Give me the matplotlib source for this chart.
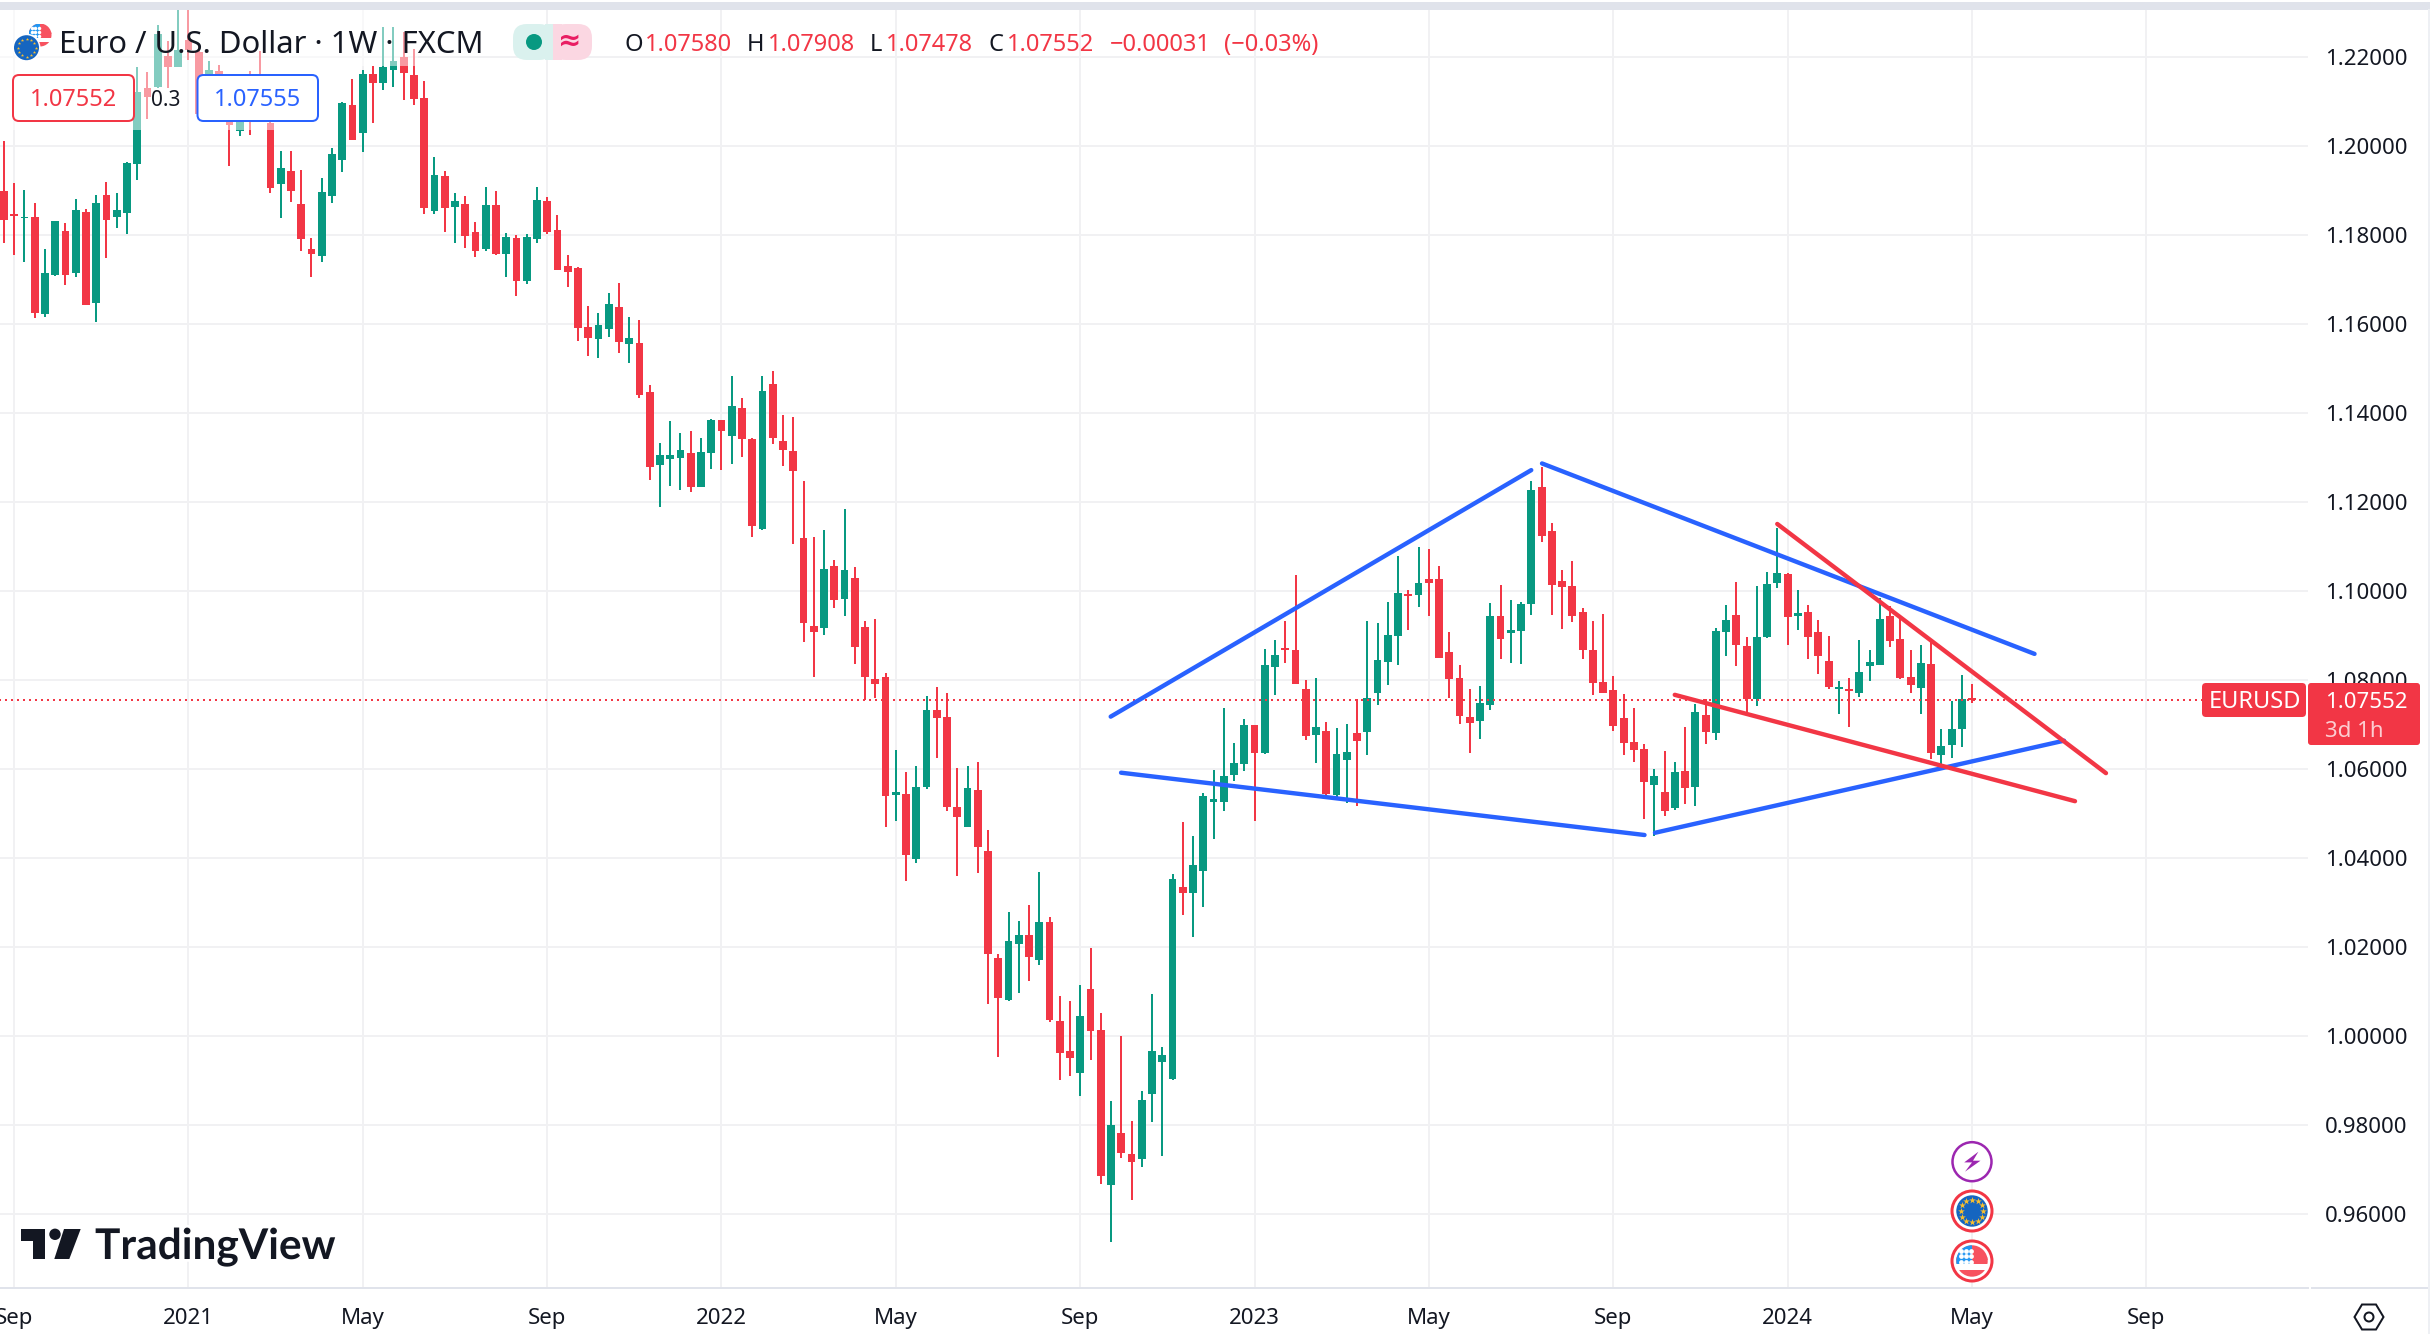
import numpy as np
import matplotlib
matplotlib.use("Agg")
import matplotlib.pyplot as plt
import matplotlib.patheffects as pe
from matplotlib.patches import Circle, FancyBboxPatch, Polygon, Rectangle

# Weekly EUR/USD candles (oldest first)
opens = [
    1.1899, 1.1847, 1.1837, 1.1840, 1.1621, 1.1710, 1.1809, 1.1715, 1.1852, 1.1646,
    1.1890, 1.1839, 1.1848, 1.1958, 1.2130, 1.2133, 1.2202, 1.2178, 1.2238, 1.2210,
    1.2101, 1.2169, 1.2101, 1.2034, 1.2094, 1.2131, 1.2052, 1.1915, 1.1944, 1.1870,
    1.1769, 1.1753, 1.1888, 1.1969, 1.2092, 1.2029, 1.2162, 1.2142, 1.2171, 1.2200,
    1.2160, 1.2108, 1.1854, 1.1933, 1.1863, 1.1870, 1.1807, 1.1769, 1.1867, 1.1757,
    1.1793, 1.1697, 1.1791, 1.1876, 1.1811, 1.1730, 1.1726, 1.1593, 1.1566, 1.1589,
    1.1638, 1.1555, 1.1557, 1.1446, 1.1283, 1.1296, 1.1298, 1.1309, 1.1233, 1.1309,
    1.1384, 1.1348, 1.1410, 1.1341, 1.1139, 1.1464, 1.1336, 1.1314, 1.1119, 1.0921,
    1.0917, 1.1056, 1.0982, 1.1029, 1.0919, 1.0802, 1.0805, 1.0542, 1.0544, 1.0398,
    1.0558, 1.0733, 1.0717, 1.0515, 1.0470, 1.0553, 1.0416, 1.0175, 1.0080, 1.0206,
    1.0227, 1.0170, 1.0256, 1.0033, 0.9966, 0.9916, 1.0105, 1.0013, 0.9664, 0.9781,
    0.9734, 0.9723, 0.9869, 0.9941, 0.9903, 1.0335, 1.0321, 1.0371, 1.0526, 1.0525,
    1.0586, 1.0611, 1.0698, 1.0635, 1.0829, 1.0872, 1.0867, 1.0779, 1.0676, 1.0685,
    1.0541, 1.0620, 1.0680, 1.0683, 1.0770, 1.0840, 1.0899, 1.0993, 1.0991, 1.1027,
    1.1027, 1.0863, 1.0804, 1.0716, 1.0707, 1.0743, 1.0944, 1.0905, 1.0910, 1.0971,
    1.1234, 1.1135, 1.1022, 1.1011, 1.0953, 1.0867, 1.0795, 1.0777, 1.0714, 1.0660,
    1.0644, 1.0563, 1.0548, 1.0512, 1.0595, 1.0559, 1.0721, 1.0681, 1.0908, 1.0946,
    1.0876, 1.0757, 1.0897, 1.1018, 1.1038, 1.0944, 1.0953, 1.0908, 1.0843, 1.0780,
    1.0780, 1.0771, 1.0831, 1.0834, 1.0944, 1.0892, 1.0807, 1.0782, 1.0836, 1.0631,
    1.0654, 1.0690, 1.07580,
]
highs = [
    1.2011, 1.1917, 1.1901, 1.1872, 1.1769, 1.1831, 1.1827, 1.1881, 1.1858, 1.1890,
    1.1919, 1.1894, 1.1964, 1.2178, 1.2166, 1.2272, 1.2236, 1.2330, 1.2320, 1.2225,
    1.2191, 1.2182, 1.2124, 1.2109, 1.2169, 1.2213, 1.2071, 1.1989, 1.1989, 1.1946,
    1.1793, 1.1928, 1.1995, 1.2099, 1.2151, 1.2171, 1.2180, 1.2266, 1.2266, 1.2255,
    1.2217, 1.2146, 1.1975, 1.1944, 1.1894, 1.1888, 1.1829, 1.1908, 1.1899, 1.1804,
    1.1800, 1.1802, 1.1908, 1.1885, 1.1845, 1.1755, 1.1727, 1.1640, 1.1625, 1.1670,
    1.1692, 1.1616, 1.1609, 1.1462, 1.1332, 1.1381, 1.1354, 1.1359, 1.1343, 1.1386,
    1.1384, 1.1482, 1.1433, 1.1343, 1.1482, 1.1494, 1.1395, 1.1390, 1.1247, 1.1121,
    1.1137, 1.1069, 1.1184, 1.1054, 1.0933, 1.0937, 1.0814, 1.0641, 1.0593, 1.0607,
    1.0764, 1.0784, 1.0771, 1.0602, 1.0607, 1.0616, 1.0463, 1.0184, 1.0278, 1.0258,
    1.0294, 1.0368, 1.0267, 1.0089, 1.0078, 1.0114, 1.0197, 1.0051, 0.9853, 0.9999,
    0.9808, 0.9876, 1.0094, 0.9975, 1.0364, 1.0481, 1.0449, 1.0546, 1.0596, 1.0737,
    1.0658, 1.0712, 1.0699, 1.0869, 1.0890, 1.0932, 1.1036, 1.0800, 1.0804, 1.0705,
    1.0692, 1.0701, 1.0757, 1.0932, 1.0928, 1.0975, 1.1079, 1.1002, 1.1099, 1.1094,
    1.1056, 1.0908, 1.0833, 1.0779, 1.0786, 1.0973, 1.1013, 1.0980, 1.0975, 1.1247,
    1.1279, 1.1153, 1.1047, 1.1067, 1.0962, 1.0932, 1.0948, 1.0809, 1.0768, 1.0737,
    1.0656, 1.0599, 1.0640, 1.0615, 1.0694, 1.0746, 1.0757, 1.0917, 1.0969, 1.1020,
    1.0897, 1.1011, 1.1043, 1.1142, 1.1040, 1.1002, 1.0969, 1.0935, 1.0899, 1.0796,
    1.0804, 1.0890, 1.0867, 1.0984, 1.0966, 1.0939, 1.0867, 1.0879, 1.0888, 1.0690,
    1.0753, 1.0811, 1.07908,
]
lows = [
    1.1781, 1.1754, 1.1738, 1.1612, 1.1616, 1.1707, 1.1688, 1.1704, 1.1641, 1.1603,
    1.1747, 1.1814, 1.1801, 1.1922, 1.2059, 1.2130, 1.2129, 1.2176, 1.2193, 1.2067,
    1.2067, 1.2067, 1.1954, 1.2021, 1.2023, 1.2064, 1.1893, 1.1837, 1.1874, 1.1763,
    1.1704, 1.1738, 1.1872, 1.1942, 1.2012, 1.1987, 1.2052, 1.2126, 1.2133, 1.2103,
    1.2092, 1.1847, 1.1847, 1.1807, 1.1782, 1.1771, 1.1751, 1.1764, 1.1755, 1.1706,
    1.1663, 1.1690, 1.1782, 1.1802, 1.1720, 1.1683, 1.1562, 1.1528, 1.1524, 1.1571,
    1.1535, 1.1512, 1.1434, 1.1249, 1.1187, 1.1235, 1.1226, 1.1222, 1.1232, 1.1274,
    1.1271, 1.1285, 1.1301, 1.1121, 1.1137, 1.1330, 1.1280, 1.1105, 1.0885, 1.0805,
    1.0901, 1.0962, 1.0944, 1.0836, 1.0755, 1.0760, 1.0470, 1.0482, 1.0348, 1.0389,
    1.0555, 1.0625, 1.0506, 1.0359, 1.0469, 1.0366, 1.0071, 0.9952, 1.0078, 1.0096,
    1.0123, 1.0159, 1.0031, 0.9900, 0.9909, 0.9864, 0.9945, 0.9666, 0.9536, 0.9725,
    0.9630, 0.9705, 0.9806, 0.9729, 0.9900, 1.0272, 1.0222, 1.0290, 1.0443, 1.0505,
    1.0572, 1.0595, 1.0482, 1.0634, 1.0766, 1.0838, 1.0790, 1.0665, 1.0613, 1.0536,
    1.0532, 1.0523, 1.0516, 1.0631, 1.0743, 1.0788, 1.0833, 1.0912, 1.0964, 1.0944,
    1.0848, 1.0759, 1.0701, 1.0635, 1.0667, 1.0732, 1.0847, 1.0838, 1.0836, 1.0946,
    1.1110, 1.0946, 1.0914, 1.0930, 1.0847, 1.0766, 1.0770, 1.0685, 1.0631, 1.0615,
    1.0487, 1.0449, 1.0494, 1.0507, 1.0521, 1.0516, 1.0656, 1.0665, 1.0854, 1.0831,
    1.0728, 1.0742, 1.0894, 1.1007, 1.0879, 1.0912, 1.0847, 1.0813, 1.0780, 1.0724,
    1.0694, 1.0762, 1.0796, 1.0833, 1.0874, 1.0802, 1.0769, 1.0724, 1.0622, 1.0602,
    1.0625, 1.0649, 1.07478,
]
closes = [
    1.1834, 1.1843, 1.1840, 1.1625, 1.1715, 1.1830, 1.1710, 1.1856, 1.1643, 1.1872,
    1.1832, 1.1856, 1.1962, 1.2121, 1.2109, 1.2252, 1.2178, 1.2216, 1.2216, 1.2071,
    1.2171, 1.2101, 1.2047, 1.2071, 1.2064, 1.2079, 1.1906, 1.1951, 1.1899, 1.1791,
    1.1757, 1.1897, 1.1982, 1.2097, 1.2013, 1.2162, 1.2142, 1.2178, 1.2191, 1.2164,
    1.2106, 1.1861, 1.1935, 1.1861, 1.1876, 1.1798, 1.1764, 1.1867, 1.1757, 1.1795,
    1.1697, 1.1795, 1.1879, 1.1807, 1.1721, 1.1717, 1.1591, 1.1569, 1.1596, 1.1645,
    1.1560, 1.1569, 1.1440, 1.1279, 1.1305, 1.1305, 1.1316, 1.1233, 1.1312, 1.1384,
    1.1359, 1.1415, 1.1341, 1.1146, 1.1449, 1.1343, 1.1316, 1.1269, 1.0928, 1.0908,
    1.1049, 1.0980, 1.1047, 1.0874, 1.0805, 1.0791, 1.0538, 1.0547, 1.0407, 1.0560,
    1.0733, 1.0715, 1.0515, 1.0492, 1.0557, 1.0425, 1.0184, 1.0085, 1.0213, 1.0227,
    1.0177, 1.0256, 1.0035, 0.9961, 0.9950, 1.0044, 1.0011, 0.9684, 0.9799, 0.9736,
    0.9716, 0.9855, 0.9966, 0.9957, 1.0353, 1.0321, 1.0384, 1.0539, 1.0533, 1.0584,
    1.0613, 1.0698, 1.0635, 1.0833, 1.0856, 1.0867, 1.0791, 1.0674, 1.0694, 1.0543,
    1.0633, 1.0638, 1.0662, 1.0759, 1.0845, 1.0901, 1.0995, 1.0989, 1.1018, 1.1018,
    1.0849, 1.0802, 1.0719, 1.0703, 1.0748, 1.0944, 1.0892, 1.0912, 1.0971, 1.1227,
    1.1124, 1.1013, 1.1009, 1.0944, 1.0867, 1.0793, 1.0770, 1.0696, 1.0658, 1.0642,
    1.0570, 1.0584, 1.0505, 1.0593, 1.0557, 1.0728, 1.0683, 1.0910, 1.0935, 1.0879,
    1.0757, 1.0897, 1.1016, 1.1040, 1.0942, 1.0951, 1.0897, 1.0854, 1.0784, 1.0784,
    1.0775, 1.0818, 1.0840, 1.0937, 1.0888, 1.0804, 1.0787, 1.0838, 1.0636, 1.0652,
    1.0690, 1.0757, 1.07552,
]

last_price = 1.07552

# Axis ticks (x in weeks since the first candle)
price_ticks = [0.96, 0.98, 1.00, 1.02, 1.04, 1.06, 1.08, 1.10, 1.12, 1.14, 1.16, 1.18, 1.20, 1.22]
week_ticks = [1, 18, 35, 53, 70, 87, 105, 122, 139, 157, 174, 192, 209]
week_labels = ["Sep", "2021", "May", "Sep", "2022", "May", "Sep", "2023", "May", "Sep", "2024", "May", "Sep"]

# Hand drawn trend lines: (week, price) at both ends
blue_lines = [
    ([107.97, 149.0], [1.0717, 1.1271]),
    ([150.05, 198.1], [1.1286, 1.0858]),
    ([108.98, 160.05], [1.0591, 1.0451]),
    ([161.07, 200.98], [1.0456, 1.0663]),
]
red_lines = [
    ([173.0, 205.07], [1.1150, 1.0590]),
    ([163.0, 202.05], [1.0766, 1.0527]),
]

W, H = 2430, 1334
PX = 0.72  # one picture pixel in points

GREEN = "#089981"
RED = "#f23645"
BLUE = "#2962ff"
INK = "#131722"
GRID = "#f1f1f3"
EDGE = "#e0e3eb"

plt.rcParams["font.family"] = ["Noto Sans", "DejaVu Sans"]


def box(ov, x0, y0, x1, y1, fc, ec="none", lw=0, r=6, z=3):
    ov.add_patch(FancyBboxPatch((x0, y0), x1 - x0, y1 - y0, boxstyle=f"round,pad=0,rounding_size={r}",
                                fc=fc, ec=ec, lw=lw * PX, zorder=z))


def eu_flag(ov, cx, cy, r):
    ov.add_patch(Circle((cx, cy), r, fc="#1565c0", ec="none", zorder=6))
    a = np.arange(12) * np.pi / 6
    ov.scatter(cx + 0.72 * r * np.cos(a), cy + 0.72 * r * np.sin(a), s=(r * 0.32) ** 2,
               marker="*", color="#fbc02d", linewidths=0, zorder=7)


def us_flag(ov, cx, cy, r):
    disc = Circle((cx, cy), r, fc="white", ec="none", zorder=6)
    ov.add_patch(disc)
    parts = [
        Rectangle((cx - r, cy - r), 2 * r, 0.95 * r, fc="#f7525f", ec="none", zorder=6),
        Rectangle((cx - r, cy - 0.24 * r), 2 * r, 0.46 * r, fc="#f7525f", ec="none", zorder=6),
        Rectangle((cx - r, cy + 0.6 * r), 2 * r, 0.5 * r, fc="#f7525f", ec="none", zorder=6),
        Rectangle((cx - r, cy - r), r, 1.22 * r, fc="#2196f3", ec="none", zorder=6),
    ]
    for p in parts:
        ov.add_patch(p)
        p.set_clip_path(disc)
    xs, ys = np.meshgrid(cx - np.array([0.72, 0.4, 0.08]) * r, cy - np.array([0.65, 0.3, -0.05]) * r)
    ov.scatter(xs.ravel(), ys.ravel(), s=(r * 0.22) ** 2, color="white", linewidths=0, zorder=7)


def draw_candles(ax):
    x = np.arange(len(opens))
    o, h, l, c = map(np.array, (opens, highs, lows, closes))
    colors = [GREEN if up else RED for up in c >= o]
    ax.vlines(x, l, h, colors=colors, linewidth=2 * PX, zorder=3)
    ax.bar(x, np.abs(c - o), bottom=np.minimum(o, c), width=0.78, color=colors, linewidth=0, zorder=3)


def draw_main(fig):
    ax = fig.add_axes([0, 1 - 1288 / H, 2308 / W, (1288 - 10) / H])
    ax.set_xlim(-0.39, 224.78)
    ax.set_ylim(0.9433, 1.2305)
    ax.set_axisbelow(True)
    ax.grid(True, color=GRID, linewidth=2 * PX)

    draw_candles(ax)
    ax.plot([-1, 215.4], [last_price, last_price], color=RED, linewidth=2 * PX,
            linestyle=(0, (1, 2)), zorder=4)
    for xs, ys in blue_lines:
        ax.plot(xs, ys, color=BLUE, linewidth=4.4 * PX, solid_capstyle="round", zorder=5)
    for xs, ys in red_lines:
        ax.plot(xs, ys, color=RED, linewidth=4.4 * PX, solid_capstyle="round", zorder=6)

    ax.yaxis.tick_right()
    ax.set_yticks(price_ticks)
    ax.set_yticklabels([f"{p:.5f}" for p in price_ticks], fontsize=16, color=INK, va="center_baseline")
    ax.set_xticks(week_ticks)
    ax.set_xticklabels(week_labels, fontsize=16, color=INK)
    for lab, txt in zip(ax.get_xticklabels(), week_labels):
        if txt.isdigit():
            lab.set_fontweight("bold")
    ax.tick_params(axis="both", length=0)
    ax.tick_params(axis="y", pad=17 * PX)
    ax.tick_params(axis="x", pad=20 * PX)
    for side in ("left", "top", "right"):
        ax.spines[side].set_visible(False)
    ax.spines["bottom"].set_color(EDGE)
    ax.spines["bottom"].set_linewidth(2 * PX)
    return ax


def draw_header(ov):
    # candles fade out behind the legend rows
    ov.add_patch(Rectangle((0, 10), 418, 56, fc="white", alpha=0.5, ec="none", zorder=2))
    ov.add_patch(Rectangle((0, 66), 276, 64, fc="white", alpha=0.5, ec="none", zorder=2))

    us_flag(ov, 40, 35, 11.5)
    ov.add_patch(Circle((26.5, 47.7), 14, fc="white", ec="none", zorder=7))
    ov.add_patch(Circle((26.5, 47.7), 12.5, fc="#1565c0", ec="none", zorder=7))
    a = np.arange(12) * np.pi / 6
    ov.scatter(26.5 + 9 * np.cos(a), 47.7 + 9 * np.sin(a), s=6, marker="*", color="#fbc02d",
               linewidths=0, zorder=8)

    ov.text(59, 53, "Euro / U.S. Dollar · 1W · FXCM", fontsize=22.3, color=INK, va="baseline", zorder=5)

    # market status pill
    ov.add_patch(FancyBboxPatch((513, 24), 40, 36, boxstyle="round,pad=0,rounding_size=14",
                                fc="#daf1ee", ec="none", zorder=3))
    ov.add_patch(FancyBboxPatch((552, 24), 40, 36, boxstyle="round,pad=0,rounding_size=14",
                                fc="#fbd7e2", ec="none", zorder=3))
    ov.add_patch(Rectangle((545, 24), 9, 36, fc="#daf1ee", ec="none", zorder=3))
    ov.add_patch(Rectangle((553, 24), 9, 36, fc="#fbd7e2", ec="none", zorder=3))
    ov.add_patch(Circle((534, 42), 8, fc=GREEN, ec="none", zorder=4))
    ov.text(570, 42, "≈", fontsize=20, color="#e91e63", fontweight="bold", ha="center", va="center", zorder=4)

    parts = [
        (625, "O", INK), (645, "1.07580", RED), (747, "H", INK), (768, "1.07908", RED),
        (870, "L", INK), (886, "1.07478", RED), (989, "C", INK), (1007, "1.07552", RED),
        (1110, "−0.00031", RED), (1224, "(−0.03%)", RED),
    ]
    for x, s, col in parts:
        ov.text(x, 51, s, fontsize=17, color=col, va="baseline", zorder=5)

    box(ov, 13, 75, 134, 121, "white", RED, 2)
    ov.text(73.5, 106, "1.07552", fontsize=17, color=RED, ha="center", va="baseline", zorder=5)
    ov.text(166, 106, "0.3", fontsize=15, color=INK, ha="center", va="baseline", zorder=5)
    box(ov, 197.5, 75, 318, 121, "white", BLUE, 2)
    ov.text(258, 106, "1.07555", fontsize=17, color=BLUE, ha="center", va="baseline", zorder=5)


def draw_price_tags(ov):
    box(ov, 2202, 683, 2306, 717, RED, r=4)
    ov.text(2255, 708, "EURUSD", fontsize=17, color="white", ha="center", va="baseline", zorder=5)
    box(ov, 2308, 683, 2420, 745, RED, r=3)
    ov.text(2325, 708, "1.07552", fontsize=16, color="white", va="baseline", zorder=5)
    ov.text(2325, 737, "3d 1h", fontsize=16, color="#fccdd1", va="baseline", zorder=5)


def draw_events(ov):
    cx = 1972
    ov.add_patch(Circle((cx, 1161.7), 19.5, fc="white", ec="#9c27b0", lw=2.5 * PX, zorder=5))
    bolt = [(6.4, -10), (-7.8, 0.7), (0, 0.7), (-7, 10), (8.5, -1), (1, -1)]
    ov.add_patch(Polygon([(cx + dx, 1161.7 + dy) for dx, dy in bolt], fc="#9c27b0", ec="none", zorder=6))
    for cy, flag in ((1211, eu_flag), (1261, us_flag)):
        ov.add_patch(Circle((cx, cy), 20, fc="white", ec=RED, lw=3 * PX, zorder=5))
        flag(ov, cx, cy, 15.7)


def draw_logo(ov):
    ov.add_patch(Polygon([(21, 1229), (45, 1229), (45, 1259), (33, 1259), (33, 1241), (21, 1241)],
                         fc=INK, ec="none", zorder=5))
    ov.add_patch(Circle((55, 1234.3), 5.7, fc=INK, ec="none", zorder=5))
    ov.add_patch(Polygon([(64, 1229), (80.7, 1229), (69.3, 1259), (54.3, 1259)], fc=INK, ec="none", zorder=5))
    ov.text(95, 1259, "TradingView", fontsize=30.5, fontfamily="Lato", fontweight="bold", color=INK,
            va="baseline", zorder=5, path_effects=[pe.withStroke(linewidth=4, foreground="white")])


def draw_frame(ov):
    ov.add_patch(Rectangle((0, 2), W, 8, fc=EDGE, ec="none", zorder=1))
    ov.plot([2312, W], [1288, 1288], color=EDGE, linewidth=2 * PX, zorder=1)
    ov.plot([2428.5, 2428.5], [10, H], color="#eef0f4", linewidth=2 * PX, zorder=1)
    # settings gear below the price scale
    cx, cy = 2369, 1317
    hexagon = [(cx - 14.5, cy), (cx - 7, cy - 12.5), (cx + 7, cy - 12.5), (cx + 14.5, cy),
               (cx + 7, cy + 12.5), (cx - 7, cy + 12.5)]
    ov.add_patch(Polygon(hexagon, fc="none", ec=INK, lw=2 * PX, zorder=3))
    ov.add_patch(Circle((cx, cy), 4.5, fc="none", ec=INK, lw=2 * PX, zorder=3))


def main():
    fig = plt.figure(figsize=(W / 100, H / 100), dpi=100, facecolor="white")
    draw_main(fig)

    # overlay in picture pixels for the chrome around the chart
    ov = fig.add_axes([0, 0, 1, 1], zorder=5)
    ov.set_xlim(0, W)
    ov.set_ylim(H, 0)
    ov.axis("off")
    ov.patch.set_alpha(0)

    draw_frame(ov)
    draw_header(ov)
    draw_price_tags(ov)
    draw_events(ov)
    draw_logo(ov)

    fig.savefig("out.png", dpi=100)


if __name__ == "__main__":
    main()
